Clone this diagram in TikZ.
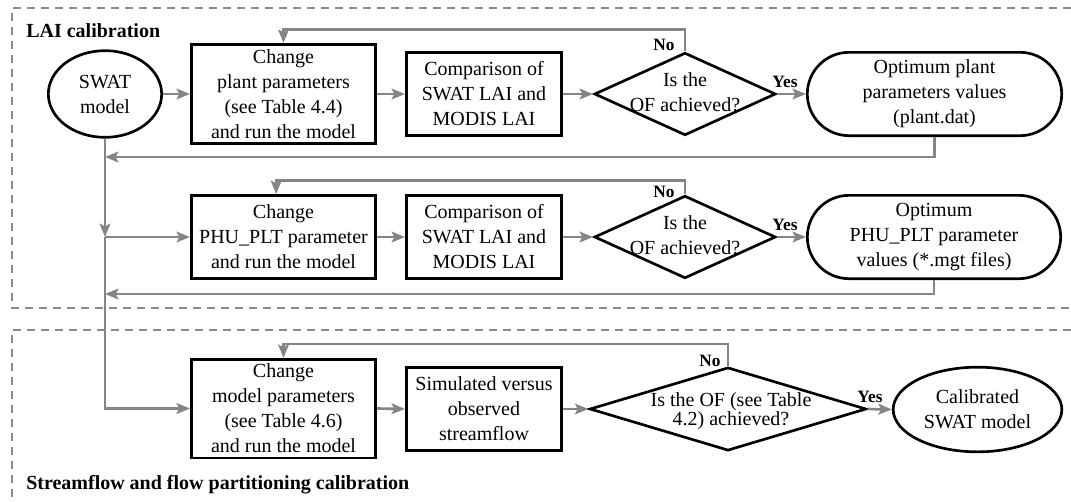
\documentclass[tikz,border=0pt]{standalone}
\usepackage{fontspec}
\setmainfont{Liberation Serif}
\usetikzlibrary{arrows.meta,shapes.geometric,shapes.misc}

\begin{document}
\begin{tikzpicture}[x=0.75pt,y=-0.75pt,
  txt/.style={font=\fontsize{15}{18.75}\selectfont,align=center,inner sep=0pt},
  base/.style={txt,draw=black,line width=2pt},
  procbox/.style={base,rectangle},
  endcap/.style={base,rounded rectangle},
  oval/.style={base,ellipse},
  decision/.style={draw=black,line width=2pt,diamond,inner sep=0pt},
  flow/.style={draw=black!48,line width=2pt,-{Stealth[length=10pt,width=8pt,inset=2pt]}},
  frame/.style={draw=black!45,line width=2pt,dash pattern=on 6pt off 4.5pt},
  tag/.style={font=\bfseries\fontsize{13}{15}\selectfont,inner sep=0pt},
  heading/.style={font=\bfseries\fontsize{15}{18}\selectfont,inner sep=0pt,anchor=west}
]
\useasboundingbox (0,0) rectangle (1071,501);

% section frames
\draw[frame] (1071,8) -- (12,8) -- (12,308) -- (1071,308);
\draw[frame] (1071,330) -- (12,330) -- (12,501);
\node[heading] (laiT) at (26,31) {LAI calibration};
\node[heading] (sfT) at (26,485) {Streamflow and flow partitioning calibration};

% row 1: plant parameters
\node[oval,minimum width=85pt,minimum height=65pt] (swat) at (105,94) {SWAT\\model};
\node[procbox,minimum width=138.3pt,minimum height=74.5pt] (b1) at (283.5,94)
  {Change\\plant parameters\\(see Table 4.4)\\and run the model};
\node[procbox,minimum width=116.5pt,minimum height=62.5pt] (b2) at (484,94)
  {Comparison of\\SWAT LAI and\\MODIS LAI};
\node[decision,minimum width=136pt,minimum height=62pt] (d1) at (685,94) {};
\node[txt] (d1t) at (685,92) {Is the\\OF achieved?};
\node[endcap,minimum width=190.8pt,minimum height=62.5pt] (t1) at (934.5,94)
  {Optimum plant\\parameters values\\(plant.dat)};

% row 2: PHU_PLT
\node[procbox,minimum width=138.3pt,minimum height=62.5pt] (b3) at (283.5,237)
  {Change\\PHU\_PLT parameter\\and run the model};
\node[procbox,minimum width=116.5pt,minimum height=62.5pt] (b4) at (484,237)
  {Comparison of\\SWAT LAI and\\MODIS LAI};
\node[decision,minimum width=136pt,minimum height=62pt] (d2) at (685,237) {};
\node[txt] (d2t) at (685,235) {Is the\\OF achieved?};
\node[endcap,minimum width=190pt,minimum height=62.5pt] (t2) at (934,237)
  {Optimum\\PHU\_PLT parameter\\values (*.mgt files)};

% row 3: streamflow
\node[procbox,minimum width=138.3pt,minimum height=74pt] (b5) at (283.5,408.5)
  {Change\\model parameters\\(see Table 4.6)\\and run the model};
\node[procbox,minimum width=116.5pt,minimum height=62.5pt] (b6) at (484,409)
  {Simulated versus\\observed\\streamflow};
\node[decision,minimum width=207.5pt,minimum height=62.5pt] (d3) at (728,409) {};
\node[txt,font=\fontsize{15}{14.5}\selectfont] (d3t) at (731,411) {Is the OF (see Table\\4.2) achieved?};
\node[oval,minimum width=126.5pt,minimum height=63.5pt] (cal) at (977.5,409.5)
  {Calibrated\\SWAT model};

% forward connectors
\draw[flow] (swat.east) -- (b1.west);
\draw[flow] (b1.east) -- (b2.west);
\draw[flow] (b2.east) -- (d1.west);
\draw[flow] (d1.east) -- (t1.west);
\draw[flow] (b3.east) -- (b4.west);
\draw[flow] (b4.east) -- (d2.west);
\draw[flow] (d2.east) -- (t2.west);
\draw[flow] (b5.east) -- (b6.west);
\draw[flow] (b6.east) -- (d3.west);
\draw[flow] (d3.east) -- (cal.west);

% feedback loops
\draw[flow] (d1.north) -- ++(0,-22) -| (b1.north);
\draw[flow] (d2.north) -- ++(0,-14) -| ([xshift=-5.5pt]b3.north);
\draw[flow] (d3.north) -- ++(0,-22) -| (b5.north);

% main trunk on the left
\coordinate (m1) at (105,157);
\coordinate (j2) at (105,237);
\coordinate (m2) at (105,294);
\draw[flow] (t1.south) |- (m1);
\draw[flow] (t2.south) |- (m2);
\draw[flow] (swat.south) -- (j2);
\draw[flow] (j2) -- (b3.west);
\draw[flow] (j2) |- (b5.west);

% decision labels
\node[tag] (no1) at (664,45) {No};
\node[tag] (yes1) at (785,82) {Yes};
\node[tag] (no2) at (664,192) {No};
\node[tag] (yes2) at (785,225) {Yes};
\node[tag] (no3) at (710,361) {No};
\node[tag] (yes3) at (870,397) {Yes};
\end{tikzpicture}
\end{document}
